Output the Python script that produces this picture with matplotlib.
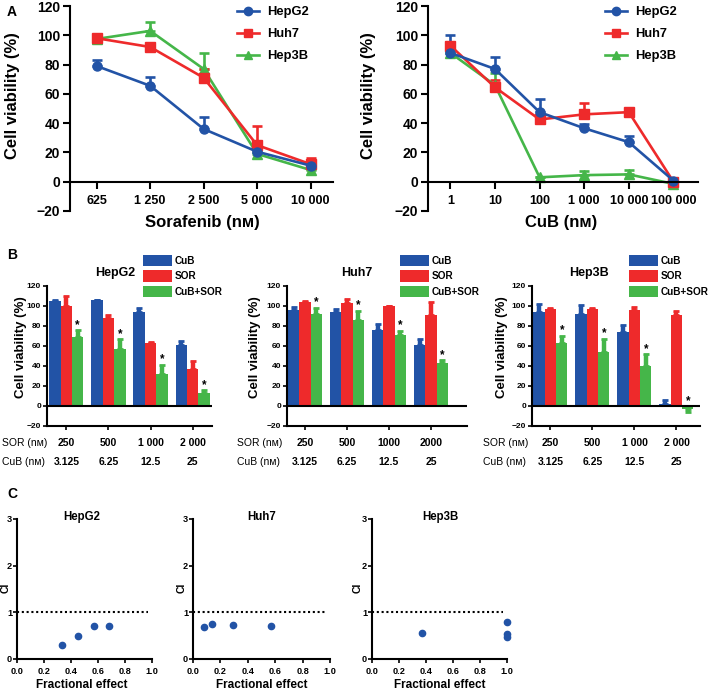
import numpy as np
import matplotlib
matplotlib.use('Agg')
import matplotlib.pyplot as plt
import matplotlib.transforms as mtransforms
from matplotlib.lines import Line2D
from matplotlib.patches import Patch

plt.rcParams['font.family'] = ['Liberation Sans', 'DejaVu Sans']
plt.rcParams['font.weight'] = 'bold'
plt.rcParams['axes.linewidth'] = 1.5

# colours
blue = '#2253a6'
red = '#ee2a2b'
green = '#45b649'

# ---- panel A: dose response ----
cell_lines = ['HepG2', 'Huh7', 'Hep3B']
sor_doses = ['625', '1 250', '2 500', '5 000', '10 000']
sor_hepg2 = [79, 65.5, 36, 20.5, 11]
sor_hepg2_err = [4, 6, 8, 2, 2]
sor_huh7 = [98, 92, 71, 25, 12]
sor_huh7_err = [1, 1, 6, 13, 4]
sor_hep3b = [97.5, 103, 77, 19, 8]
sor_hep3b_err = [1, 6, 11, 1, 1]

cub_doses = ['1', '10', '100', '1 000', '10 000', '100 000']
cub_hepg2 = [88, 77, 47.5, 36.5, 27, 0.7]
cub_hepg2_err = [12, 8, 9, 3, 4, 0]
cub_huh7 = [93, 64.5, 42.5, 46, 47.5, 0]
cub_huh7_err = [2, 5, 1, 7.5, 2, 0]
cub_hep3b = [88, 66, 3, 4.5, 5, -1.5]
cub_hep3b_err = [1, 8, 0, 3, 3, 0]

# ---- panel B: combination bars ----
b_groups = ['CuB', 'SOR', 'CuB+SOR']
b_sor_labels = ['250', '500', '1 000', '2 000']
b_sor_labels_huh7 = ['250', '500', '1000', '2000']
b_cub_labels = ['3.125', '6.25', '12.5', '25']

hepg2_cub = [105, 106, 94, 61]
hepg2_cub_err = [1, 0.5, 4, 4]
hepg2_sor = [100, 88.5, 63, 37]
hepg2_sor_err = [10, 3, 1, 8]
hepg2_combo = [69, 57, 32.5, 13]
hepg2_combo_err = [7, 10, 9, 3]

huh7_cub = [96.5, 94, 76, 61]
huh7_cub_err = [3, 3, 6, 6]
huh7_sor = [104.5, 103, 100, 91]
huh7_sor_err = [1, 4, 0.5, 13]
huh7_combo = [92.5, 86.5, 71.5, 43]
huh7_combo_err = [6, 9, 4, 3]

hep3b_cub = [94, 92.5, 74, 2]
hep3b_cub_err = [8, 9, 7, 4]
hep3b_sor = [97.5, 97.5, 96, 91]
hep3b_sor_err = [1, 1, 3, 4]
hep3b_combo = [63.5, 54.5, 40, -3]
hep3b_combo_err = [7, 13, 12, 3]

# ---- panel C: combination index ----
fa_hepg2 = [0.33, 0.45, 0.57, 0.68]
ci_hepg2 = [0.30, 0.50, 0.71, 0.71]
fa_huh7 = [0.08, 0.14, 0.29, 0.57]
ci_huh7 = [0.68, 0.74, 0.72, 0.71]
fa_hep3b = [0.37, 1.0, 1.0, 1.0]
ci_hep3b = [0.55, 0.80, 0.53, 0.47]

W, H = 709, 691
fig = plt.figure(figsize=(W / 100, H / 100), dpi=100)


def fx(x):
    return x / W


def fy(y):
    return 1 - y / H


def rect(x0, x1, y0, y1):
    return [fx(x0), fy(y1), (x1 - x0) / W, (y1 - y0) / H]


#panel A
def line_panel(r, doses, series, xlabel, xlab_x, ylab_x, xlim, leg_x):
    ax = fig.add_axes(r)
    x = np.arange(len(doses))
    for vals, err, color, marker in series:
        ax.errorbar(x, vals, yerr=[np.zeros(len(err)), err], color=color,
                    marker=marker, ms=6.5, lw=1.9, elinewidth=1.9,
                    capsize=3.5, capthick=1.9, clip_on=False)
    ax.set_ylim(-20, 120)
    ax.set_yticks(np.arange(-20, 121, 20))
    ax.set_xlim(xlim)
    ax.set_xticks(x)
    ax.set_xticklabels(doses)
    ax.spines['bottom'].set_position(('data', 0))
    ax.spines['top'].set_visible(False)
    ax.spines['right'].set_visible(False)
    ax.tick_params(axis='x', length=5, width=1.5, pad=4.5, labelsize=9)
    ax.tick_params(axis='y', length=5, width=1.5, pad=2, labelsize=10)
    fig.text(fx(xlab_x), fy(222), xlabel, ha='center', va='center', fontsize=12)
    fig.text(fx(ylab_x), fy(96), 'Cell viability (%)', ha='center', va='center',
             rotation=90, fontsize=12)
    handles = [Line2D([], [], color=blue, marker='o', lw=1.9, ms=6),
               Line2D([], [], color=red, marker='s', lw=1.9, ms=6),
               Line2D([], [], color=green, marker='^', lw=1.9, ms=6)]
    ax.legend(handles, cell_lines, loc='upper left', bbox_to_anchor=(fx(leg_x), fy(6)),
              bbox_transform=fig.transFigure, frameon=False, fontsize=9.3,
              handlelength=1.7, handletextpad=0.6, labelspacing=0.78,
              borderpad=0, borderaxespad=0)
    return ax


line_panel(rect(70, 333, 6, 211), sor_doses,
           [(sor_hep3b, sor_hep3b_err, green, '^'),
            (sor_huh7, sor_huh7_err, red, 's'),
            (sor_hepg2, sor_hepg2_err, blue, 'o')],
           'Sorafenib (nᴍ)', 202, 13, (-0.5, 4.42), 237)
line_panel(rect(428, 698, 6, 211), cub_doses,
           [(cub_hep3b, cub_hep3b_err, green, '^'),
            (cub_huh7, cub_huh7_err, red, 's'),
            (cub_hepg2, cub_hepg2_err, blue, 'o')],
           'CuB (nᴍ)', 561, 368, (-0.5, 5.55), 605)
fig.text(fx(7), fy(12), 'A', ha='left', va='center', fontsize=10)


#panel B
def bar_panel(r, title, title_x, data, sor_labels, xlim, leg_x, ylab_x, row_x):
    ax = fig.add_axes(r)
    x = np.arange(4)
    w = 0.27
    colors = [blue, red, green]
    for k, (vals, err) in enumerate(data):
        pos = x + (k - 1) * w
        ax.bar(pos, vals, w, color=colors[k], zorder=2)
        lower = [e if v < 0 else 0 for v, e in zip(vals, err)]
        upper = [0 if v < 0 else e for v, e in zip(vals, err)]
        ax.errorbar(pos, vals, yerr=[lower, upper], fmt='none', ecolor=colors[k],
                    elinewidth=3.2, capsize=2.2, capthick=2, zorder=1)
    combo, combo_err = data[2]
    for i in range(4):
        top = combo[i] + combo_err[i] if combo[i] >= 0 else 0
        ax.text(x[i] + w, top + 5, '*', ha='center', va='center', fontsize=8.5)
    ax.axhline(0, color='black', lw=1.5, zorder=3)
    ax.set_ylim(-20, 120)
    ax.set_yticks(np.arange(-20, 121, 20))
    ax.set_xlim(xlim)
    ax.set_xticks(x)
    ax.set_xticklabels([])
    ax.spines['top'].set_visible(False)
    ax.spines['right'].set_visible(False)
    ax.tick_params(axis='y', length=3, width=1.2, pad=1.2, labelsize=6)
    ax.tick_params(axis='x', length=3, width=1.2)
    tr = mtransforms.blended_transform_factory(ax.transData, fig.transFigure)
    for i in range(4):
        ax.text(x[i], fy(443), sor_labels[i], transform=tr, ha='center', va='center', fontsize=7.5)
        ax.text(x[i], fy(462), b_cub_labels[i], transform=tr, ha='center', va='center', fontsize=7.5)
    fig.text(fx(row_x), fy(443), 'SOR (nᴍ)', ha='left', va='center', fontsize=7.5, fontweight='normal')
    fig.text(fx(row_x), fy(462), 'CuB (nᴍ)', ha='left', va='center', fontsize=7.5, fontweight='normal')
    fig.text(fx(title_x), fy(273), title, ha='center', va='center', fontsize=9)
    fig.text(fx(ylab_x), fy(347), 'Cell viability (%)', ha='center', va='center',
             rotation=90, fontsize=9.5)
    handles = [Patch(facecolor=c) for c in colors]
    ax.legend(handles, b_groups, loc='upper left', bbox_to_anchor=(fx(leg_x), fy(255)),
              bbox_transform=fig.transFigure, frameon=False, fontsize=7.2,
              handlelength=2.9, handleheight=1.35, handletextpad=0.3, labelspacing=0.42,
              borderpad=0, borderaxespad=0)
    return ax


bar_panel(rect(47, 212, 286, 426), 'HepG2', 115,
          [(hepg2_cub, hepg2_cub_err), (hepg2_sor, hepg2_sor_err), (hepg2_combo, hepg2_combo_err)],
          b_sor_labels, (-0.46, 3.46), 143, 21, 2)
bar_panel(rect(287, 467, 286, 426), 'Huh7', 357,
          [(huh7_cub, huh7_cub_err), (huh7_sor, huh7_sor_err), (huh7_combo, huh7_combo_err)],
          b_sor_labels_huh7, (-0.43, 3.86), 400, 255, 237)
bar_panel(rect(532, 700, 286, 426), 'Hep3B', 589,
          [(hep3b_cub, hep3b_cub_err), (hep3b_sor, hep3b_sor_err), (hep3b_combo, hep3b_combo_err)],
          b_sor_labels, (-0.44, 3.56), 629, 502, 483)
fig.text(fx(7), fy(255), 'B', ha='left', va='center', fontsize=10)


#panel C
def ci_panel(r, title, cx, ci_x, fa, ci):
    ax = fig.add_axes(r)
    ax.plot(fa, ci, 'o', color=blue, ms=4.5, clip_on=False)
    ax.plot([0, 0.97], [1, 1], color='black', lw=1.5, linestyle=(0, (1, 1.3)))
    ax.set_xlim(0, 1)
    ax.set_ylim(0, 3)
    ax.set_xticks(np.arange(0, 1.01, 0.2))
    ax.set_xticklabels(['%.1f' % t for t in np.arange(0, 1.01, 0.2)])
    ax.set_yticks([0, 1, 2, 3])
    ax.spines['top'].set_visible(False)
    ax.spines['right'].set_visible(False)
    ax.tick_params(axis='x', length=3, width=1.2, pad=3, labelsize=6.6)
    ax.tick_params(axis='y', length=3, width=1.2, pad=0.5, labelsize=6.6)
    fig.text(fx(cx), fy(517), title, ha='center', va='center', fontsize=8.3)
    fig.text(fx(cx), fy(685), 'Fractional effect', ha='center', va='center', fontsize=8.5)
    fig.text(fx(ci_x), fy(588), 'CI', ha='center', va='center', rotation=90, fontsize=7.5)
    return ax


ci_panel(rect(17, 152, 519, 659), 'HepG2', 82, 6, fa_hepg2, ci_hepg2)
ci_panel(rect(193, 330, 519, 659), 'Huh7', 262, 182, fa_huh7, ci_huh7)
ci_panel(rect(372, 507, 519, 659), 'Hep3B', 440, 358, fa_hep3b, ci_hep3b)
fig.text(fx(7), fy(494), 'C', ha='left', va='center', fontsize=10)

fig.savefig('out.png', dpi=100)
